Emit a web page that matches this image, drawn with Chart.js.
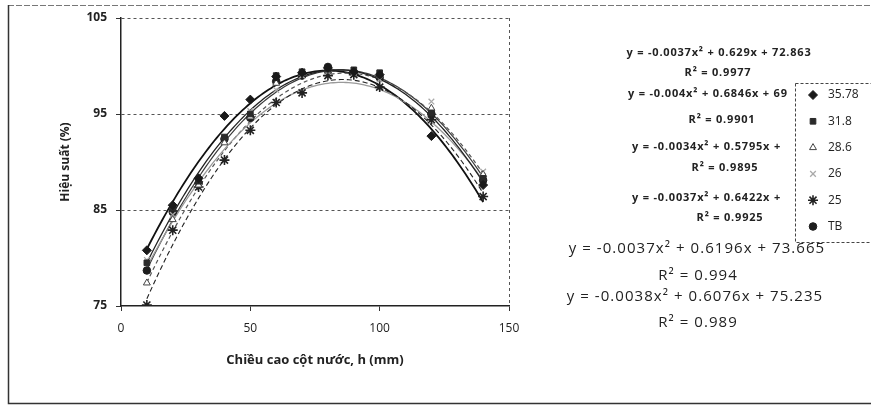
<!DOCTYPE html>
<html>
<head>
<meta charset="utf-8">
<script src="https://cdn.jsdelivr.net/npm/chart.js@4/dist/chart.umd.min.js"></script>
<style>
    html, body { margin: 0; padding: 0; background: #fff; overflow: hidden; }
    #wrap { position: relative; width: 871px; height: 411px; }
</style>
</head>
<body>
<div id="wrap">
    <canvas id="effChart" width="871" height="411"></canvas>
</div>
<script>

// ==========================
// Data
// ==========================

const heights = [10, 20, 30, 40, 50, 60, 70, 80, 90, 100, 120, 140];

const seriesNames = ["35.78", "31.8", "28.6", "26", "25", "TB"];

const eff3578 = [80.8, 85.5, 88.3, 94.8, 96.5, 98.9, 99.3, 99.8, 99.4, 99.1, 92.7, 87.6];
const eff318  = [79.5, 85.2, 88.0, 92.6, 95.0, 99.0, 99.4, 99.7, 99.6, 99.3, 95.1, 88.3];
const eff286  = [77.4, 84.0, 87.6, 92.0, 94.7, 98.2, 99.2, 99.5, 99.4, 99.0, 95.6, 88.7];
const eff26   = [79.8, 84.5, 87.9, 92.2, 95.3, 97.5, 99.0, 99.4, 99.3, 98.6, 96.3, 89.0];
const eff25   = [75.1, 82.9, 87.4, 90.2, 93.3, 96.2, 97.2, 99.0, 99.1, 97.8, 94.4, 86.4];
const effTB   = [78.7, 84.8, 87.8, 92.4, 94.6, 98.4, 99.0, 99.9, 99.3, 98.8, 95.0, 88.1];

// trendline coefficients (a, b, c) per series, same order as seriesNames
const trendA = [-0.0038, -0.0037, -0.0037, -0.0034, -0.004, -0.0037];
const trendB = [0.6076, 0.629, 0.6422, 0.5795, 0.6846, 0.6196];
const trendC = [75.235, 72.863, 71.4, 73.6, 69.3, 73.665];

const yTicks = [75, 85, 95, 105];
const xTicks = [0, 50, 100, 150];

const eqSmall = [
    "y = -0.0037x² + 0.629x + 72.863", "R² = 0.9977",
    "y = -0.004x² + 0.6846x + 69", "R² = 0.9901",
    "y = -0.0034x² + 0.5795x +", "R² = 0.9895",
    "y = -0.0037x² + 0.6422x +", "R² = 0.9925"
];
const eqLarge = [
    "y = -0.0037x² + 0.6196x + 73.665", "R² = 0.994",
    "y = -0.0038x² + 0.6076x + 75.235", "R² = 0.989"
];

const allSeries = [eff3578, eff318, eff286, eff26, eff25, effTB];

// ==========================
// Styles
// ==========================

const markerStyles = [
    { pointStyle: "rectRot", radius: 4.5, fill: "#1a1a1a", stroke: "#1a1a1a", bw: 1 },
    { pointStyle: "rect", radius: 4, fill: "#2a2a2a", stroke: "#2a2a2a", bw: 1 },
    { pointStyle: "triangle", radius: 4, fill: "#ffffff", stroke: "#444", bw: 1 },
    { pointStyle: "crossRot", radius: 4, fill: "#aaa", stroke: "#aaa", bw: 1.3 },
    { pointStyle: "star", radius: 5, fill: "#222", stroke: "#222", bw: 1.6 },
    { pointStyle: "circle", radius: 3.8, fill: "#1e1e1e", stroke: "#1e1e1e", bw: 1 }
];

const trendStyles = [
    { color: "#111", width: 1.8, dash: [] },
    { color: "#3a3a3a", width: 1.2, dash: [] },
    { color: "#555", width: 1.2, dash: [4, 3] },
    { color: "#9a9a9a", width: 1.3, dash: [] },
    { color: "#222", width: 1.1, dash: [5, 3] },
    { color: "#222", width: 1.3, dash: [] }
];

const FONT = "'Open Sans', 'DejaVu Sans', sans-serif";

// ==========================
// Trendlines Plugin
// ==========================

const trendPlugin = {
    id: "trendlines",
    beforeDatasetsDraw(chart) {
        const { ctx, chartArea, scales } = chart;
        ctx.save();
        ctx.beginPath();
        ctx.rect(chartArea.left, chartArea.top, chartArea.right - chartArea.left, chartArea.bottom - chartArea.top);
        ctx.clip();
        for (let s = 0; s < allSeries.length; s++) {
            const st = trendStyles[s];
            ctx.strokeStyle = st.color;
            ctx.lineWidth = st.width;
            ctx.setLineDash(st.dash);
            ctx.beginPath();
            const x0 = heights[0];
            const x1 = heights[heights.length - 1];
            for (let x = x0; x <= x1; x += 1) {
                const y = trendA[s] * x * x + trendB[s] * x + trendC[s];
                const px = scales.x.getPixelForValue(x);
                const py = scales.y.getPixelForValue(y);
                if (x === x0) ctx.moveTo(px, py); else ctx.lineTo(px, py);
            }
            ctx.stroke();
        }
        ctx.restore();
    }
};

// ==========================
// Frame, Equations, Legend
// ==========================

const extrasPlugin = {
    id: "extras",
    afterDraw(chart) {
        const ctx = chart.ctx;
        ctx.save();

        // outer frame
        ctx.setLineDash([6, 2]);
        ctx.strokeStyle = "#777";
        ctx.lineWidth = 1;
        ctx.beginPath();
        ctx.moveTo(8, 5.5);
        ctx.lineTo(871, 5.5);
        ctx.stroke();
        ctx.setLineDash([]);
        ctx.strokeStyle = "#333";
        ctx.lineWidth = 1.5;
        ctx.beginPath();
        ctx.moveTo(8.5, 5);
        ctx.lineTo(8.5, 403.5);
        ctx.lineTo(871, 403.5);
        ctx.stroke();

        // small equations
        ctx.fillStyle = "#222";
        ctx.textBaseline = "middle";
        ctx.font = "bold 11px " + FONT;
        ctx.letterSpacing = "0.8px";
        const smallPos = [
            [719, 53, "center"], [718, 73, "center"],
            [628, 94, "left"], [722, 120, "center"],
            [632, 147, "left"], [725, 168, "center"],
            [632, 198, "left"], [730, 218, "center"]
        ];
        eqSmall.forEach((txt, i) => {
            ctx.textAlign = smallPos[i][2];
            ctx.fillText(txt, smallPos[i][0], smallPos[i][1]);
        });

        // large equations
        ctx.font = "15px " + FONT;
        ctx.letterSpacing = "1.05px";
        ctx.textAlign = "center";
        const largePos = [[697, 249], [698, 276], [695, 297], [698, 323]];
        eqLarge.forEach((txt, i) => {
            ctx.fillText(txt, largePos[i][0], largePos[i][1]);
        });
        ctx.letterSpacing = "0px";

        // legend box
        const lx = 795, ly = 83, lh = 159;
        ctx.fillStyle = "#fff";
        ctx.fillRect(lx, ly, 100, lh);
        ctx.setLineDash([3, 2]);
        ctx.strokeStyle = "#444";
        ctx.lineWidth = 1;
        ctx.strokeRect(lx + 0.5, ly + 0.5, 100, lh);
        ctx.setLineDash([]);

        ctx.font = "12px " + FONT;
        ctx.textAlign = "left";
        seriesNames.forEach((name, i) => {
            const y = 95 + i * 26.3;
            const m = markerStyles[i];
            ctx.fillStyle = m.fill;
            ctx.strokeStyle = m.stroke;
            ctx.lineWidth = m.bw;
            Chart.helpers.drawPoint(ctx, {
                pointStyle: m.pointStyle,
                radius: m.radius,
                rotation: 0,
                borderWidth: m.bw
            }, 813, y);
            ctx.fillStyle = "#222";
            ctx.fillText(name, 828, y);
        });

        ctx.restore();
    }
};

// ==========================
// Chart
// ==========================

const datasets = allSeries.map((vals, s) => ({
    label: seriesNames[s],
    data: heights.map((h, i) => ({ x: h, y: vals[i] })),
    pointStyle: markerStyles[s].pointStyle,
    pointRadius: markerStyles[s].radius,
    pointBackgroundColor: markerStyles[s].fill,
    pointBorderColor: markerStyles[s].stroke,
    pointBorderWidth: markerStyles[s].bw,
    showLine: false
}));

const effChart = new Chart(document.getElementById("effChart"), {
    type: "scatter",
    data: { datasets },
    plugins: [trendPlugin, extrasPlugin],
    options: {
        responsive: false,
        animation: false,
        devicePixelRatio: 1,
        layout: { padding: { left: 42, right: 362, top: 18, bottom: 43 } },
        plugins: {
            legend: { display: false },
            tooltip: { enabled: false }
        },
        scales: {
            x: {
                type: "linear",
                min: 0,
                max: 150,
                afterBuildTicks: (s) => { s.ticks = xTicks.map(v => ({ value: v })); },
                afterFit: (s) => { s.height = 62; },
                ticks: {
                    color: "#222",
                    padding: 10,
                    font: { family: FONT, size: 12 }
                },
                grid: {
                    color: (c) => (c.tick && c.tick.value === 150 ? "#555" : "transparent"),
                    tickColor: "#333",
                    tickLength: 5,
                    lineWidth: 1
                },
                border: { display: true, color: "#222", width: 1.5, dash: [3, 3] },
                title: {
                    display: true,
                    text: "Chiều cao cột nước, h (mm)",
                    color: "#222",
                    padding: { top: 0, bottom: 0 },
                    font: { family: FONT, size: 13, weight: "bold" }
                }
            },
            y: {
                type: "linear",
                min: 75,
                max: 105,
                afterBuildTicks: (s) => { s.ticks = yTicks.map(v => ({ value: v })); },
                afterFit: (s) => { s.width = 79; },
                ticks: {
                    color: "#222",
                    padding: 9,
                    font: { family: FONT, size: 12, weight: "bold" }
                },
                grid: {
                    color: (c) => (c.tick && c.tick.value === 75 ? "transparent" : "#555"),
                    tickColor: "#333",
                    tickLength: 5,
                    lineWidth: 1
                },
                border: { display: true, color: "#222", width: 1.5, dash: [3, 3] },
                title: {
                    display: true,
                    text: "Hiệu suất (%)",
                    color: "#222",
                    padding: { top: 16, bottom: 0 },
                    font: { family: FONT, size: 12, weight: "bold" }
                }
            }
        }
    }
});

</script>
</body>
</html>
